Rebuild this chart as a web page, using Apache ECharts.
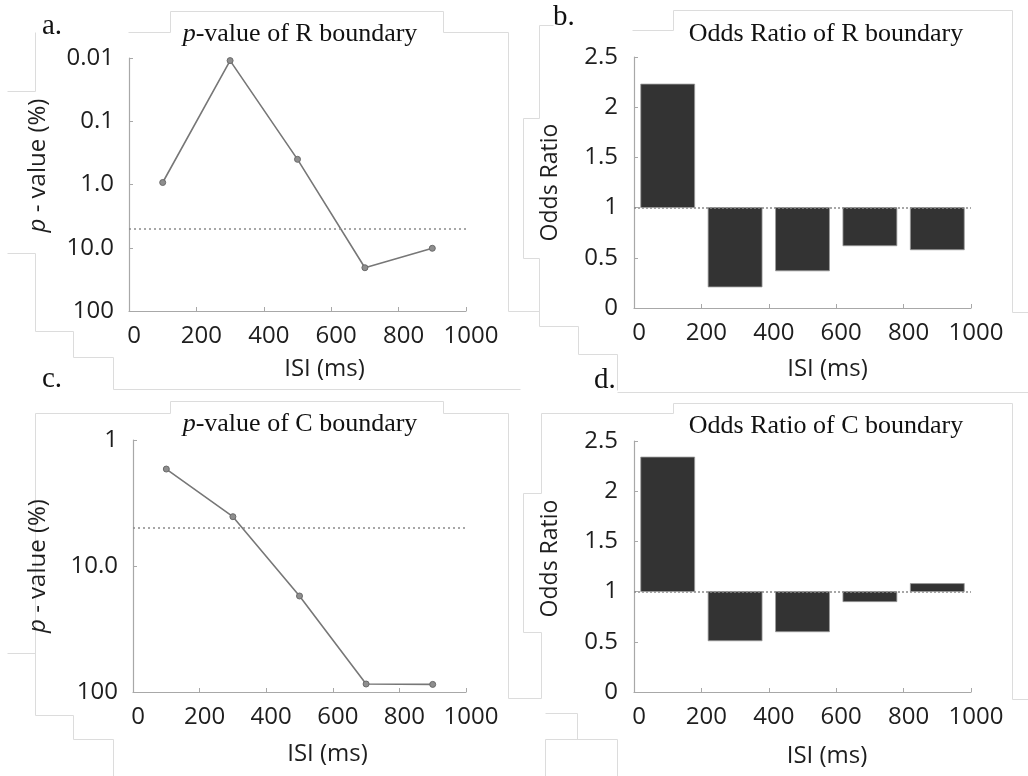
<!DOCTYPE html>
<html>
<head>
<meta charset="utf-8">
<script src="https://cdn.jsdelivr.net/npm/echarts@6/dist/echarts.min.js"></script>
<style>
html,body{margin:0;padding:0;background:#fff;}
#chart{width:1028px;height:776px;}
</style>
</head>
<body>
<div id="chart"></div>
<script>
// ---- data ----
const isi = [100, 300, 500, 700, 900];
const pValueR = [0.93, 0.011, 0.4, 20.7, 10.2];
const pValueC = [1.7, 4.06, 17.3, 86.4, 87];
const oddsR = [2.23, 0.21, 0.37, 0.62, 0.58];
const oddsC = [2.34, 0.51, 0.60, 0.90, 1.08];
const pThreshold = 5;
const oddsBaseline = 1;
const pTickLabelsR = ['0.01', '0.1', '1.0', '10.0', '100'];
const pTickLabelsC = ['1', '10.0', '100'];
const panelTitles = ['{i|p}-value of R boundary', 'Odds Ratio of R boundary', '{i|p}-value of C boundary', 'Odds Ratio of C boundary'];
const panelLetters = ['a.', 'b.', 'c.', 'd.'];
const xName = 'ISI (ms)';
const pName = '{i|p} - value (%)';
const oddsName = 'Odds Ratio';

// ---- styles ----
const SANS = '"Open Sans", sans-serif';
const SERIF = '"Liberation Serif", "Times New Roman", serif';
const axisGray = '#a8a8a8';
const textCol = '#1e1e1e';
const barHalf = 80;
const FS = 24;

function xAxisFor(gi, padLeft, gap) {
  return {
    type: 'value', gridIndex: gi, min: 0, max: 1000, interval: 200,
    name: xName, nameLocation: 'middle', nameGap: gap,
    nameTextStyle: {fontFamily: SANS, fontSize: FS, color: textCol, padding: [0, 0, 0, padLeft]},
    axisLine: {show: true, lineStyle: {color: axisGray, width: 1.2}},
    axisTick: {show: true, inside: true, length: 4, lineStyle: {color: axisGray}},
    axisLabel: {fontFamily: SANS, fontSize: FS, color: textCol, margin: 13, padding: [0, 0, 0, 10],
      formatter: function (v) { return String(v); }},
    splitLine: {show: false}
  };
}
function logAxisFor(gi, min, max, labels, gap, padLeft) {
  return {
    type: 'log', logBase: 10, gridIndex: gi, min: min, max: max, inverse: true,
    name: pName, nameLocation: 'middle', nameGap: gap,
    nameTextStyle: {fontFamily: SANS, fontSize: FS, color: textCol, padding: [0, 0, 0, padLeft],
      rich: {i: {fontFamily: SANS, fontSize: FS, fontStyle: 'italic', color: textCol}}},
    axisLine: {show: true, lineStyle: {color: axisGray, width: 1.2}},
    axisTick: {show: true, inside: true, length: 4, lineStyle: {color: axisGray}},
    axisLabel: {fontFamily: SANS, fontSize: FS, color: textCol, margin: 15,
      formatter: function (v) {
        const k = Math.round(Math.log10(v) - Math.log10(min));
        return labels[k] !== undefined ? labels[k] : '';
      }},
    splitLine: {show: false}
  };
}
function oddsAxisFor(gi, gap, padLeft) {
  return {
    type: 'value', gridIndex: gi, min: 0, max: 2.5, interval: 0.5,
    name: oddsName, nameLocation: 'middle', nameGap: gap,
    nameTextStyle: {fontFamily: SANS, fontSize: 23, color: textCol, padding: [0, 0, 0, padLeft]},
    axisLine: {show: true, lineStyle: {color: axisGray, width: 1.2}},
    axisTick: {show: true, inside: true, length: 4, lineStyle: {color: axisGray}},
    axisLabel: {fontFamily: SANS, fontSize: FS, color: textCol, margin: 16},
    splitLine: {show: false}
  };
}
function lineSeries(gi, vals) {
  return {
    type: 'line', xAxisIndex: gi, yAxisIndex: gi,
    data: isi.map((x, i) => [x, vals[i]]),
    symbol: 'circle', symbolSize: 6, showSymbol: true,
    lineStyle: {color: '#777', width: 1.6},
    itemStyle: {color: '#8e8e8e', borderColor: '#6a6a6a', borderWidth: 1},
    animation: false, silent: true,
    markLine: {
      silent: true, symbol: ['none', 'none'], animation: false,
      label: {show: false},
      lineStyle: {color: '#8a8a8a', type: [2, 3], width: 1.5},
      data: [{yAxis: pThreshold}]
    }
  };
}
function barSeries(gi, vals) {
  return {
    type: 'custom', xAxisIndex: gi, yAxisIndex: gi,
    data: isi.map((x, i) => [x, vals[i]]),
    animation: false, silent: true,
    renderItem: function (params, api) {
      const x = api.value(0), v = api.value(1);
      const p1 = api.coord([x - barHalf, oddsBaseline]);
      const p2 = api.coord([x + barHalf, v]);
      return {
        type: 'rect',
        shape: {x: p1[0], y: Math.min(p1[1], p2[1]), width: p2[0] - p1[0], height: Math.abs(p2[1] - p1[1])},
        style: {fill: '#333333', stroke: '#9a9a9a', lineWidth: 0.8}
      };
    },
    markLine: {
      silent: true, symbol: ['none', 'none'], animation: false,
      label: {show: false},
      lineStyle: {color: '#8a8a8a', type: [2, 2], width: 1.5},
      data: [{yAxis: oddsBaseline}]
    },
    z: 1
  };
}

// faint frame lines (scan artefacts of the original figure)
const frameLines = [
  [[170,11],[443,11]], [[170,11],[170,32]], [[128,32],[170,32]], [[443,11],[443,32]], [[443,32],[508,32]],
  [[508,32],[508,311]], [[508,311],[520,311]],
  [[35,32],[35,91]], [[7,91],[35,91]], [[7,253],[35,253]], [[35,253],[35,331]], [[35,331],[73,331]],
  [[73,331],[73,357]], [[73,357],[113,357]], [[113,357],[113,389]], [[113,389],[520,389]],
  [[170,401],[443,401]], [[170,401],[170,413]], [[35,413],[170,413]], [[443,401],[443,413]], [[443,413],[508,413]],
  [[35,413],[35,715]], [[7,653],[35,653]], [[508,413],[508,698]], [[508,698],[520,698]],
  [[35,715],[73,715]], [[73,715],[73,739]], [[73,739],[113,739]], [[113,739],[113,776]],
  [[673,10],[1012,10]], [[673,10],[673,30]], [[632,30],[673,30]], [[1012,10],[1012,312]], [[1012,312],[1028,312]],
  [[539,25],[553,25]], [[539,25],[539,118]], [[523,118],[539,118]], [[523,118],[523,258]], [[523,258],[539,258]],
  [[539,258],[539,326]], [[510,311],[539,311]], [[539,326],[578,326]], [[578,326],[578,354]], [[578,354],[617,354]], [[617,354],[617,390]],
  [[617,392],[1028,392]], [[673,403],[1012,403]], [[673,403],[673,413]], [[541,413],[673,413]],
  [[541,413],[541,493]], [[523,493],[541,493]], [[523,493],[523,632]], [[523,632],[541,632]], [[541,632],[541,698]], [[510,698],[541,698]],
  [[1012,403],[1012,699]], [[1012,699],[1028,699]],
  [[545,713],[577,713]], [[577,713],[577,739]], [[545,739],[617,739]], [[545,739],[545,776]], [[617,739],[617,776]]
];

const titlePos = [[300, 34], [826, 34], [300, 424], [826, 426]];
const letterPos = [[42, 26], [553, 17], [42, 379], [594, 380]];

const graphics = [];
frameLines.forEach(function (l) {
  graphics.push({type: 'line', silent: true, z: -10,
    shape: {x1: l[0][0] + 0.5, y1: l[0][1] + 0.5, x2: l[1][0] + 0.5, y2: l[1][1] + 0.5},
    style: {stroke: '#dcdcdc', lineWidth: 1}});
});
panelTitles.forEach(function (t, i) {
  graphics.push({type: 'text', silent: true, x: titlePos[i][0], y: titlePos[i][1],
    style: {text: t, fill: '#111', font: '26px ' + SERIF, align: 'center', verticalAlign: 'middle',
      rich: {i: {fontStyle: 'italic', fontSize: 26, fontFamily: SERIF, fill: '#111'}}}});
});
panelLetters.forEach(function (t, i) {
  graphics.push({type: 'text', silent: true, x: letterPos[i][0], y: letterPos[i][1],
    style: {text: t, fill: '#111', font: '29px ' + SERIF, align: 'left', verticalAlign: 'middle'}});
});

const option = {
  backgroundColor: '#ffffff',
  animation: false,
  grid: [
    {left: 129, top: 58, width: 337, height: 253},
    {left: 634, top: 57, width: 337, height: 251},
    {left: 133, top: 440, width: 333, height: 252},
    {left: 634, top: 441, width: 337, height: 251}
  ],
  xAxis: [xAxisFor(0, 54, 46), xAxisFor(1, 50, 49), xAxisFor(2, 56, 50), xAxisFor(3, 49, 52)],
  yAxis: [
    logAxisFor(0, 0.01, 100, pTickLabelsR, 79, 38),
    oddsAxisFor(1, 72, 0),
    logAxisFor(2, 1, 100, pTickLabelsC, 83, 0),
    oddsAxisFor(3, 72, 16)
  ],
  series: [lineSeries(0, pValueR), barSeries(1, oddsR), lineSeries(2, pValueC), barSeries(3, oddsC)],
  graphic: graphics
};

const chart = echarts.init(document.getElementById('chart'), null, {renderer: 'canvas'});
chart.setOption(option);
</script>
</body>
</html>
